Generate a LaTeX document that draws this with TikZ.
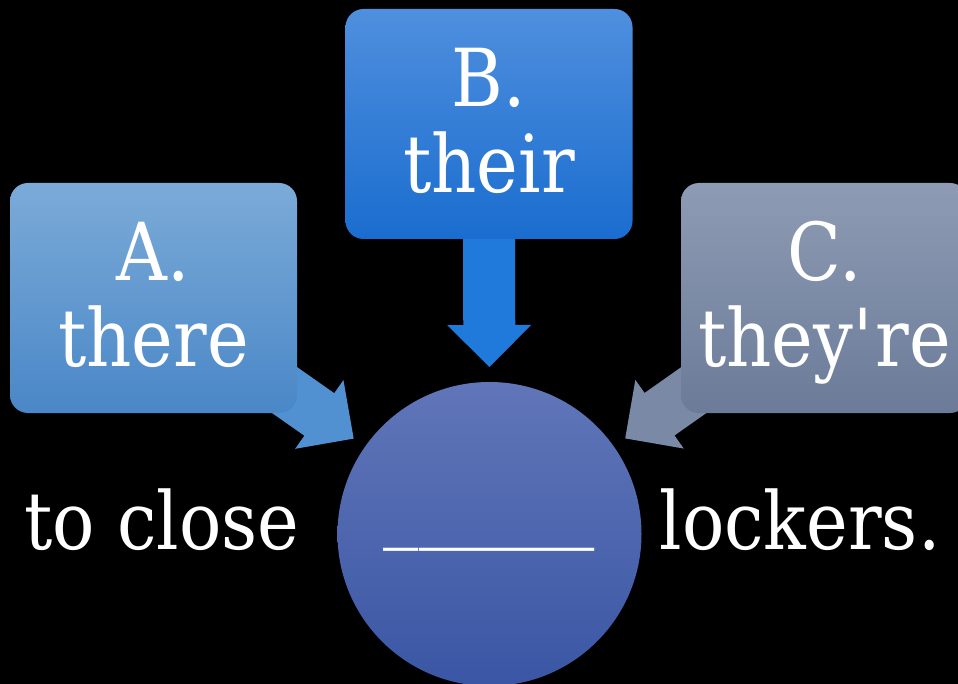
\documentclass[tikz,border=0pt]{standalone}
\usepackage{fontspec}
\setmainfont{DejaVu Serif}[FakeStretch=0.88]
\usetikzlibrary{calc,positioning}
\pgfdeclarelayer{bg}
\pgfdeclarelayer{arrows}
\pgfsetlayers{bg,arrows,main}
\definecolor{atop}{HTML}{7BABD8}
\definecolor{abot}{HTML}{4A87C7}
\definecolor{aarr}{HTML}{5191D1}
\definecolor{btop}{HTML}{4F8FDE}
\definecolor{bbot}{HTML}{1A6DCF}
\definecolor{barr}{HTML}{1F7ADB}
\definecolor{ctop}{HTML}{8E9BB4}
\definecolor{cbot}{HTML}{6B7B98}
\definecolor{carr}{HTML}{7A8AA6}
\definecolor{otop}{HTML}{6176B9}
\definecolor{obot}{HTML}{3A56A4}
% block arrow: start, tip, colour
\newcommand\blockarrow[3]{%
\path (#1) coordinate (s) ($(#2)!42pt!(#1)$) coordinate (h);
\fill[#3] ($(s)!26pt!90:(h)$) -- ($(h)!26pt!-90:(s)$) -- ($(h)!42pt!-90:(s)$) -- (#2)
  -- ($(h)!42pt!90:(s)$) -- ($(h)!26pt!90:(s)$) -- ($(s)!26pt!-90:(h)$) -- cycle;}

\begin{document}
\begin{tikzpicture}[x=1pt,y=-1pt]
\tikzset{word/.style={text=white,font=\fontsize{80}{86}\selectfont,inner sep=0pt}}
\begin{pgfonlayer}{bg}
\fill[black] (0,0) rectangle (958,684);
\end{pgfonlayer}
\useasboundingbox (0,0) rectangle (958,684);
\begin{scope}[rounded corners=18pt,minimum width=287pt,minimum height=230pt,align=center]
\tikzstyle{every node}=[word,shape=rectangle,text depth=8pt] %%
\node[top color=atop,bottom color=abot] (boxA) at (153.5,298) {A.\\there}; %%
\node[top color=btop,bottom color=bbot] (boxB) at (489,124) {B.\\their}; %%
\node[top color=ctop,bottom color=cbot] (boxC) at (824.5,298) {C.\\they\textquotesingle re};
\end{scope}
\node[circle,minimum size=304pt,inner sep=0pt,top color=otop,bottom color=obot] (blank) at (489.5,534) {}; %%
\node[word,anchor=base] (gap) at (489.5,532) {\_\_\_\_\_\_}; %%
\node[word,anchor=base] (left) at (162,549) {to close}; %%
\node[word,anchor=base] (right) at (800,549) {lockers.};
%\draw[step=10,gray] (0,0) grid (958,684);
\coordinate (tipA) at ($(blank.center)!166pt!(boxA.center)$); %%
\coordinate (tipB) at ($(blank.center)!167pt!(boxB.center)$); %%
\coordinate (tipC) at ($(blank.center)!166pt!(boxC.center)$);
\begin{pgfonlayer}{arrows}
\blockarrow{boxA.center}{tipA}{aarr} %%
\blockarrow{boxB.center}{tipB}{barr} %%
\blockarrow{boxC.center}{tipC}{carr}
\end{pgfonlayer}
\end{tikzpicture}
\end{document}
